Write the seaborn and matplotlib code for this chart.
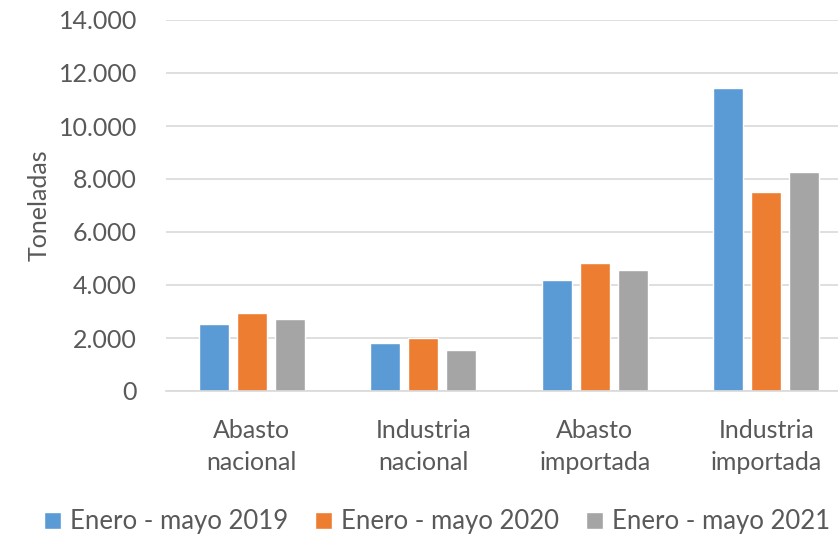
import matplotlib
matplotlib.use("Agg")
import matplotlib.pyplot as plt
import pandas as pd
import seaborn as sns
from matplotlib.ticker import FuncFormatter

# Data (toneladas)
categories = ["Abasto\nnacional", "Industria\nnacional", "Abasto\nimportada", "Industria\nimportada"]
periods = ["Enero - mayo 2019", "Enero - mayo 2020", "Enero - mayo 2021"]
values_2019 = [2520, 1810, 4180, 11430]
values_2020 = [2930, 1990, 4830, 7510]
values_2021 = [2730, 1540, 4580, 8260]
colors = ["#5b9bd5", "#ed7d31", "#a5a5a5"]

df = pd.DataFrame({
    "categoria": categories * 3,
    "periodo": [p for p in periods for _ in categories],
    "toneladas": values_2019 + values_2020 + values_2021,
})

sns.set_theme(style="white")
plt.rcParams["font.family"] = ["Lato", "DejaVu Sans"]
text_color = "#595959"

fig = plt.figure(figsize=(8.38, 5.37), dpi=100)
# plot area runs a little past the right edge, like the original
ax = fig.add_axes([166 / 838, 1 - 391 / 537, 686 / 838, 371 / 537])

sns.barplot(
    data=df,
    x="categoria",
    y="toneladas",
    hue="periodo",
    palette=colors,
    width=0.665,
    gap=0.21,
    ax=ax,
    saturation=1,
    errorbar=None,
    legend=True,
)

ax.set_ylim(0, 14000)
ax.set_yticks(range(0, 14001, 2000))
ax.yaxis.set_major_formatter(FuncFormatter(lambda v, _: f"{int(v):,}".replace(",", ".")))
ax.grid(axis="y", color="#d9d9d9", linewidth=1.2)
ax.set_axisbelow(True)
for side in ["top", "right", "left"]:
    ax.spines[side].set_visible(False)
ax.spines["bottom"].set_color("#d9d9d9")
ax.spines["bottom"].set_linewidth(1.2)
ax.tick_params(axis="both", length=0, labelsize=18, colors=text_color)
ax.tick_params(axis="y", pad=21)
ax.tick_params(axis="x", pad=20)
for lbl in ax.get_xticklabels():
    lbl.set_linespacing(1.5)
ax.set_xlabel("")
ax.set_ylabel("Toneladas", fontsize=18, color=text_color, labelpad=6)

handles, labels = ax.get_legend_handles_labels()
ax.get_legend().remove()
fig.legend(
    handles,
    labels,
    loc="center",
    bbox_to_anchor=(437 / 838, 15 / 537),
    ncol=3,
    frameon=False,
    fontsize=18.5,
    labelcolor=text_color,
    handlelength=0.65,
    handleheight=0.65,
    handletextpad=0.35,
    columnspacing=1.05,
)

fig.savefig("out.png", dpi=100)
